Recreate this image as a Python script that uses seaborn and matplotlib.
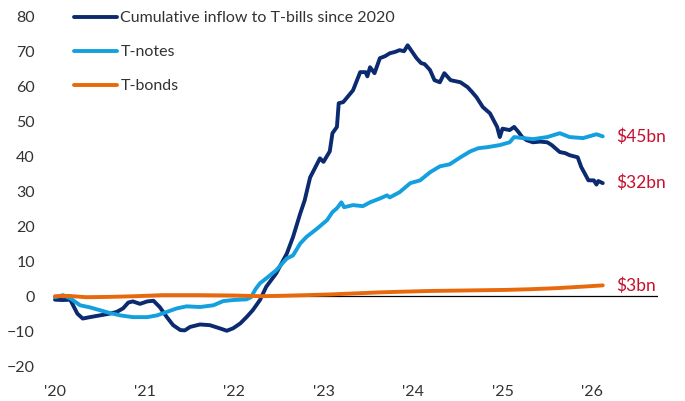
import numpy as np
import pandas as pd
import matplotlib
matplotlib.use('Agg')
import matplotlib.pyplot as plt
import seaborn as sns

# 累计流入 (十亿美元), 横轴为小数年份
bills_t = [2020.00, 2020.09, 2020.17, 2020.25, 2020.31, 2020.39, 2020.50, 2020.61, 2020.69, 2020.76,
           2020.82, 2020.87, 2020.95, 2021.03, 2021.10, 2021.17, 2021.25, 2021.32, 2021.40, 2021.45,
           2021.51, 2021.62, 2021.73, 2021.84, 2021.92, 2021.99, 2022.07, 2022.14, 2022.21, 2022.29,
           2022.36, 2022.47, 2022.59, 2022.66, 2022.74, 2022.79, 2022.85, 2022.92, 2022.96, 2023.00,
           2023.07, 2023.10, 2023.15, 2023.17, 2023.22, 2023.33, 2023.41, 2023.47, 2023.49, 2023.52,
           2023.57, 2023.63, 2023.69, 2023.74, 2023.80, 2023.85, 2023.90, 2023.94, 2024.04, 2024.09,
           2024.13, 2024.19, 2024.24, 2024.30, 2024.35, 2024.42, 2024.53, 2024.61, 2024.66, 2024.71,
           2024.78, 2024.86, 2024.94, 2024.97, 2025.00, 2025.08, 2025.13, 2025.18, 2025.22, 2025.27,
           2025.34, 2025.42, 2025.50, 2025.55, 2025.64, 2025.70, 2025.75, 2025.84, 2025.88, 2025.96,
           2026.02, 2026.05, 2026.07, 2026.12]
bills_v = [-1.0, -1.1, -1.0, -5.0, -6.4, -6.0, -5.5, -5.0, -4.5, -3.5,
           -1.8, -1.5, -2.2, -1.5, -1.3, -3.1, -6.0, -8.3, -9.7, -9.8,
           -8.8, -8.1, -8.3, -9.2, -9.9, -9.2, -7.8, -6.0, -4.0, -1.1,
           2.7, 6.5, 12.2, 17.0, 23.7, 27.5, 34.0, 37.5, 39.5, 38.5,
           41.5, 46.7, 48.5, 55.3, 55.6, 59.0, 64.2, 64.2, 63.0, 65.6,
           63.9, 68.2, 68.8, 69.6, 70.0, 70.5, 70.2, 71.9, 68.2, 66.8,
           66.5, 64.8, 61.9, 61.3, 63.9, 61.9, 61.3, 59.9, 58.5, 57.0,
           54.2, 52.4, 48.5, 45.6, 48.0, 47.6, 48.5, 47.0, 45.6, 44.7,
           44.1, 44.3, 44.1, 43.3, 41.3, 41.0, 40.4, 39.8, 37.0, 33.2,
           33.2, 32.0, 33.0, 32.4]

notes_t = [2020.00, 2020.09, 2020.17, 2020.28, 2020.39, 2020.50, 2020.61, 2020.73, 2020.87, 2021.03,
           2021.14, 2021.25, 2021.36, 2021.47, 2021.62, 2021.77, 2021.88, 2021.99, 2022.14, 2022.19,
           2022.24, 2022.29, 2022.36, 2022.47, 2022.59, 2022.66, 2022.74, 2022.81, 2022.93, 2023.04,
           2023.10, 2023.15, 2023.20, 2023.23, 2023.33, 2023.44, 2023.52, 2023.63, 2023.71, 2023.74,
           2023.85, 2023.97, 2024.08, 2024.19, 2024.30, 2024.41, 2024.53, 2024.64, 2024.73, 2024.83,
           2024.97, 2025.08, 2025.13, 2025.23, 2025.34, 2025.50, 2025.64, 2025.75, 2025.90, 2026.05,
           2026.12]
notes_v = [-0.3, 0.3, -0.6, -2.6, -3.2, -4.0, -4.8, -5.5, -6.0, -6.0,
           -5.5, -4.5, -3.5, -2.9, -3.1, -2.6, -1.4, -1.1, -0.9, -0.3,
           2.0, 3.7, 5.1, 7.4, 10.8, 11.7, 15.1, 17.0, 19.4, 21.8,
           24.1, 25.2, 26.9, 25.5, 26.1, 25.8, 26.9, 28.0, 28.9, 28.3,
           29.8, 32.4, 33.2, 35.5, 37.2, 37.8, 39.8, 41.5, 42.4, 42.7,
           43.3, 44.1, 45.6, 45.3, 45.0, 45.6, 46.7, 45.6, 45.3, 46.4,
           45.8]

bonds_t = [2020.00, 2020.15, 2020.35, 2020.60, 2020.90, 2021.20, 2021.60, 2022.00, 2022.30, 2022.50,
           2022.80, 2023.07, 2023.35, 2023.63, 2023.90, 2024.19, 2024.47, 2024.75, 2025.03, 2025.31,
           2025.60, 2025.87, 2026.12]
bonds_v = [0.0, 0.1, -0.3, -0.2, 0.0, 0.3, 0.3, 0.2, 0.0, 0.1,
           0.3, 0.5, 0.8, 1.1, 1.3, 1.5, 1.6, 1.7, 1.8, 2.0,
           2.3, 2.7, 3.1]

series_names = ['Cumulative inflow to T-bills since 2020', 'T-notes', 'T-bonds']
end_labels = ['$32bn', '$45bn', '$3bn']
colors = ['#0B2A6F', '#14A0DE', '#E8690C']
label_color = '#C8102E'
year_ticks = [2020, 2021, 2022, 2023, 2024, 2025, 2026]
year_labels = ["'20", "'21", "'22", "'23", "'24", "'25", "'26"]

df = pd.concat([
    pd.DataFrame({'t': bills_t, 'v': bills_v, 'series': series_names[0]}),
    pd.DataFrame({'t': notes_t, 'v': notes_v, 'series': series_names[1]}),
    pd.DataFrame({'t': bonds_t, 'v': bonds_v, 'series': series_names[2]}),
])

sns.set_style('white')
plt.rcParams['font.family'] = ['Lato', 'DejaVu Sans']

fig = plt.figure(figsize=(6.85, 4.01), dpi=100)
ax = fig.add_axes([53 / 685, 1 - 366 / 401, 605 / 685, 349 / 401])

sns.lineplot(data=df, x='t', y='v', hue='series', hue_order=series_names,
             palette=colors, linewidth=2.8, legend=False, ax=ax)
data_lines = ax.get_lines()[:3]
for ln in data_lines:
    ln.set_solid_capstyle('round')
    ln.set_solid_joinstyle('round')

ax.axhline(0, color='black', linewidth=0.9, zorder=1)

ax.set_xlim(2020 - 2 / 89.5, 2020 + 603 / 89.5)
ax.set_ylim(-20, 80)
ax.set_yticks(range(-20, 81, 10))
ax.set_xticks(year_ticks)
ax.set_xticklabels(year_labels)
ax.tick_params(axis='both', length=0, labelsize=11.5, labelcolor='#333333')
ax.tick_params(axis='y', pad=13)
ax.tick_params(axis='x', pad=14)
ax.set_xlabel('')
ax.set_ylabel('')
for s in ax.spines.values():
    s.set_visible(False)

# 末端标签
for tt, vv, lab in zip([bills_t, notes_t, bonds_t], [bills_v, notes_v, bonds_v], end_labels):
    ax.annotate(lab, xy=(tt[-1], vv[-1]), xytext=(10, 0), textcoords='offset points',
                ha='left', va='center', color=label_color, fontsize=12.5)

leg = ax.legend(data_lines, series_names, loc='upper left',
                bbox_to_anchor=((74 - 53) / 605, (366 - 11) / 349),
                frameon=False, fontsize=11.5, handlelength=2.7, handletextpad=0.2,
                labelspacing=1.25, borderpad=0, borderaxespad=0)
for t in leg.get_texts():
    t.set_color('#333333')

plt.savefig('out.png', dpi=100, facecolor='white')
